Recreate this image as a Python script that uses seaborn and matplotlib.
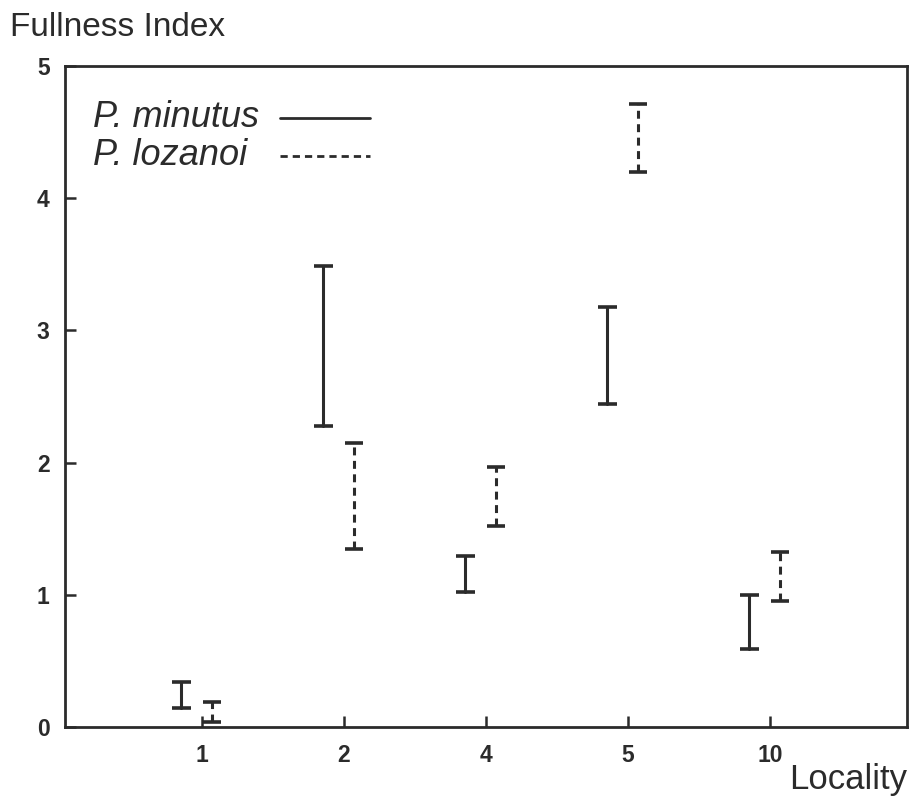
import numpy as np
import pandas as pd
import matplotlib
matplotlib.use("Agg")
import matplotlib.pyplot as plt
import seaborn as sns

# Localities sampled and fullness index ranges (low / high) per species
localities = ["1", "2", "4", "5", "10"]
species = ["P. minutus", "P. lozanoi"]
minutus_low = [0.14, 2.28, 1.02, 2.44, 0.59]
minutus_high = [0.34, 3.49, 1.29, 3.18, 1.00]
lozanoi_low = [0.04, 1.35, 1.52, 4.20, 0.95]
lozanoi_high = [0.19, 2.15, 1.97, 4.71, 1.32]

sns.set_theme(style="ticks")
plt.rcParams["font.family"] = ["Liberation Sans", "DejaVu Sans"]

ink = "#2b2b2b"
dash = (2.6, 1.8)
offsets = {"P. minutus": -0.145, "P. lozanoi": 0.07}
ranges = {"P. minutus": (minutus_low, minutus_high),
          "P. lozanoi": (lozanoi_low, lozanoi_high)}

rows = []
for sp in species:
    lows, highs = ranges[sp]
    for i, (lo, hi) in enumerate(zip(lows, highs)):
        pos = i + offsets[sp]
        uid = f"{sp}-{i}"
        rows.append({"pos": pos, "value": lo, "species": sp, "unit": uid})
        rows.append({"pos": pos, "value": hi, "species": sp, "unit": uid})
df = pd.DataFrame(rows)

fig = plt.figure(figsize=(9.13, 8.0), dpi=100)
ax = fig.add_axes([65 / 913, 1 - 727 / 800, 842 / 913, 661 / 800])

sns.lineplot(data=df, x="pos", y="value", units="unit", estimator=None,
             style="species", style_order=species,
             dashes={"P. minutus": "", "P. lozanoi": dash},
             color=ink, linewidth=2.2, sort=False, legend=False, ax=ax)

# Caps at both ends of each range
cap = 0.065
for sp in species:
    lows, highs = ranges[sp]
    xs = np.arange(len(localities)) + offsets[sp]
    ax.hlines(lows, xs - cap, xs + cap, color=ink, linewidth=2.6)
    ax.hlines(highs, xs - cap, xs + cap, color=ink, linewidth=2.6)

ax.set_xlim(-0.965, 4.965)
ax.set_ylim(0, 5)
ax.set_xticks(range(len(localities)))
ax.set_xticklabels(localities)
ax.set_yticks([0, 1, 2, 3, 4, 5])
ax.tick_params(axis="both", direction="in", length=8, width=1.8, colors=ink,
               labelsize=16.5, pad=11)
ax.tick_params(axis="x", pad=12)
for lbl in ax.get_xticklabels() + ax.get_yticklabels():
    lbl.set_fontweight("bold")
for s in ax.spines.values():
    s.set_visible(True)
    s.set_linewidth(2.0)
    s.set_color(ink)
ax.set_xlabel("")
ax.set_ylabel("")

fig.text(10 / 913, 1 - 28 / 800, "Fullness Index", fontsize=24, color=ink,
         ha="left", va="center")
fig.text(907 / 913, 1 - 780 / 800, "Locality", fontsize=25, color=ink,
         ha="right", va="center")

# Key: italic species names with a line sample to their right
key_y = [4.61, 4.32]
key_styles = ["-", (0, dash)]
for name, yk, ls in zip(species, key_y, key_styles):
    ax.text(-0.77, yk, name, fontsize=26, style="italic", color=ink,
            ha="left", va="center")
    ax.plot([0.55, 1.18], [yk + 0.0, yk + 0.0], color=ink, linewidth=2.0,
            linestyle=ls)

fig.savefig("out.png", dpi=100, facecolor="white")
